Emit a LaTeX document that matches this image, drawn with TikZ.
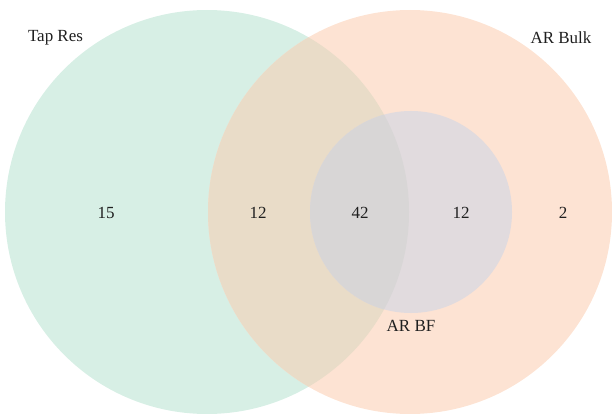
\documentclass[tikz,border=0pt]{standalone}
\usepackage{fontspec}
\setmainfont{Liberation Serif}
\definecolor{cgreen}{HTML}{D7EFE5}
\definecolor{cpeach}{HTML}{FDE3D3}
\definecolor{cboth}{HTML}{E9DCC8}
\definecolor{csmall}{HTML}{E1DBDE}
\definecolor{call}{HTML}{D8D6D6}
\begin{document}
\begin{tikzpicture}[x=1pt,y=1pt,
  lbl/.style={font=\fontsize{17}{19}\selectfont, text=black!88, inner sep=0pt}]
\useasboundingbox (0,0) rectangle (612,413);
\coordinate (cl) at (207,201);
\coordinate (cr) at (410,201);
\coordinate (cs) at (411,201);
\fill[cgreen] (cl) circle[radius=202];
\fill[cpeach] (cr) circle[radius=202];
\begin{scope}
  \clip (cl) circle[radius=202];
  \fill[cboth] (cr) circle[radius=202];
\end{scope}
\fill[csmall] (cs) circle[radius=101];
\begin{scope}
  \clip (cl) circle[radius=202];
  \fill[call] (cs) circle[radius=101];
\end{scope}
\node[lbl] (tap) at (55.5,375) {Tap Res};
\node[lbl] (bulk) at (561,375) {AR Bulk};
\node[lbl] (bf) at (411,87) {AR BF};
\node[lbl] (n1) at (106,200) {15};
\node[lbl] (n2) at (258,200) {12};
\node[lbl] (n3) at (360,200) {42};
\node[lbl] (n4) at (461,200) {12};
\node[lbl] (n5) at (563,200) {2};
\end{tikzpicture}
\end{document}
